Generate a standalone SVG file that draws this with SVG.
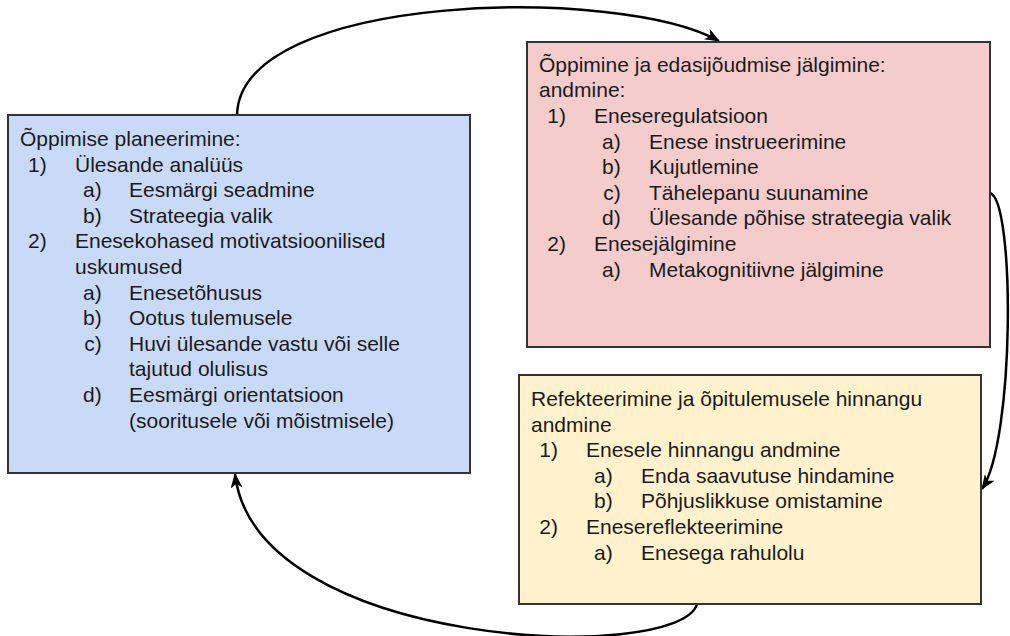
<svg xmlns="http://www.w3.org/2000/svg" width="1010" height="636" viewBox="0 0 1010 636">
<style>
.box{stroke:#333;stroke-width:2}
.t{font-family:"Liberation Sans",Arial,sans-serif;font-size:21px;fill:#1a1a1a}
.m{text-anchor:end}
.c{fill:none;stroke:#000;stroke-width:2.5}
</style>
<defs>
<marker id="ah" viewBox="0 0 15 12" refX="14" refY="6" markerWidth="15" markerHeight="12" markerUnits="userSpaceOnUse" orient="auto">
<path d="M0,0 L15,6 L0,12 L4,6 z" fill="#000"/>
</marker>
</defs>
<g id="connectors">
<path class="c" d="M237,115 C240,-8 620,-15 719,41" marker-end="url(#ah)"/>
<path class="c" d="M990,193 C1015,200 1015,440 982,489" marker-end="url(#ah)"/>
<path class="c" d="M697,604 C680,665 255,650 235,474" marker-end="url(#ah)"/>
</g>
<g id="planning">
<rect class="box" x="8" y="115" width="462" height="358" fill="#c9daf8"/>
<text class="t" x="20" y="146">Õppimise planeerimine:</text>
<text class="t m" x="46.7" y="171.6">1)</text><text class="t" x="75" y="171.6">Ülesande analüüs</text>
<text class="t m" x="101.7" y="197.2">a)</text><text class="t" x="129" y="197.2">Eesmärgi seadmine</text>
<text class="t m" x="101.7" y="222.8">b)</text><text class="t" x="129" y="222.8">Strateegia valik</text>
<text class="t m" x="46.7" y="248.4">2)</text><text class="t" x="75" y="248.4">Enesekohased motivatsioonilised</text>
<text class="t" x="75" y="274">uskumused</text>
<text class="t m" x="101.7" y="299.6">a)</text><text class="t" x="129" y="299.6">Enesetõhusus</text>
<text class="t m" x="101.7" y="325.2">b)</text><text class="t" x="129" y="325.2">Ootus tulemusele</text>
<text class="t m" x="101.7" y="350.8">c)</text><text class="t" x="129" y="350.8">Huvi ülesande vastu või selle</text>
<text class="t" x="129" y="376.4">tajutud olulisus</text>
<text class="t m" x="101.7" y="402">d)</text><text class="t" x="129" y="402">Eesmärgi orientatsioon</text>
<text class="t" x="129" y="427.6">(sooritusele või mõistmisele)</text>
</g>
<g id="monitoring">
<rect class="box" x="527" y="42" width="463" height="305" fill="#f4cccc"/>
<text class="t" x="539" y="71.7">Õppimine ja edasijõudmise jälgimine:</text>
<text class="t" x="539" y="97.3">andmine:</text>
<text class="t m" x="566" y="122.9">1)</text><text class="t" x="594" y="122.9">Eneseregulatsioon</text>
<text class="t m" x="620.7" y="148.5">a)</text><text class="t" x="649" y="148.5">Enese instrueerimine</text>
<text class="t m" x="620.7" y="174.1">b)</text><text class="t" x="649" y="174.1">Kujutlemine</text>
<text class="t m" x="620.7" y="199.7">c)</text><text class="t" x="649" y="199.7">Tähelepanu suunamine</text>
<text class="t m" x="620.7" y="225.3">d)</text><text class="t" x="649" y="225.3">Ülesande põhise strateegia valik</text>
<text class="t m" x="566" y="250.9">2)</text><text class="t" x="594" y="250.9">Enesejälgimine</text>
<text class="t m" x="620.7" y="276.5">a)</text><text class="t" x="649" y="276.5">Metakognitiivne jälgimine</text>
</g>
<g id="reflection">
<rect class="box" x="519" y="375" width="462" height="229" fill="#fff2cc"/>
<text class="t" x="531" y="406">Refekteerimine ja õpitulemusele hinnangu</text>
<text class="t" x="531" y="431.6">andmine</text>
<text class="t m" x="558" y="457.2">1)</text><text class="t" x="586" y="457.2">Enesele hinnangu andmine</text>
<text class="t m" x="612.7" y="482.8">a)</text><text class="t" x="641" y="482.8">Enda saavutuse hindamine</text>
<text class="t m" x="612.7" y="508.4">b)</text><text class="t" x="641" y="508.4">Põhjuslikkuse omistamine</text>
<text class="t m" x="558" y="534">2)</text><text class="t" x="586" y="534">Enesereflekteerimine</text>
<text class="t m" x="612.7" y="559.6">a)</text><text class="t" x="641" y="559.6">Enesega rahulolu</text>
</g>
</svg>
